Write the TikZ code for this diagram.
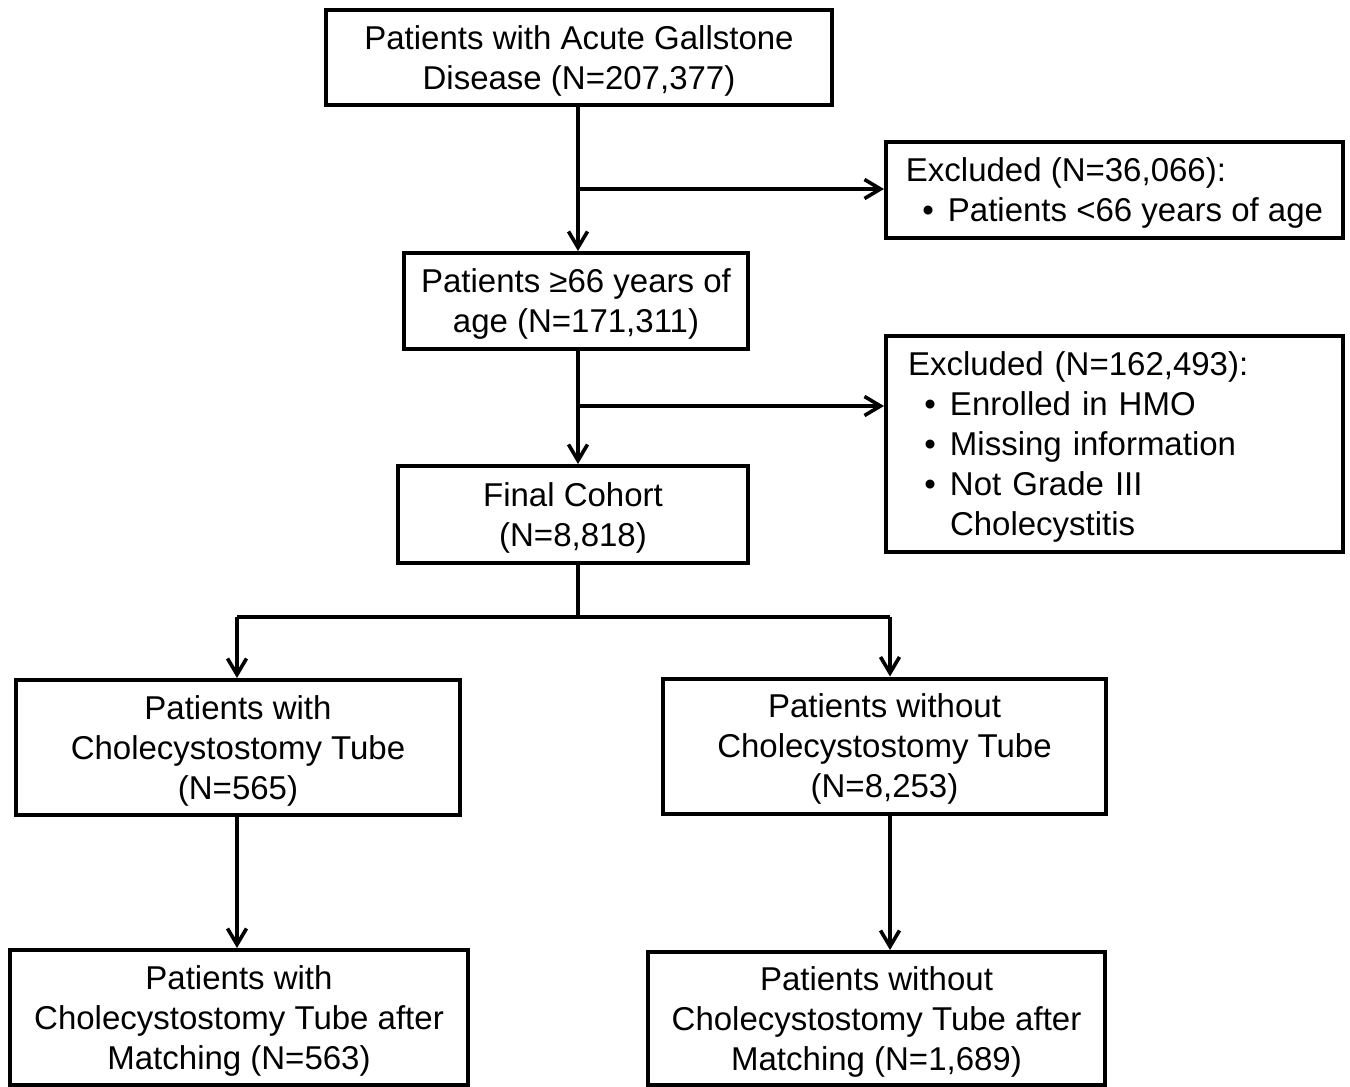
\documentclass[tikz,border=0pt]{standalone}
\usepackage{fontspec}
\setmainfont{Liberation Sans}
\usetikzlibrary{arrows.meta}
\newcommand\bitem[1]{\makebox[21pt][r]{•\hspace{7pt}}#1}
\newcommand\bhang{\hspace*{21pt}}
\newcommand\up{\rule{0pt}{15pt}}
\begin{document}
\begin{tikzpicture}[x=0.5pt,y=-0.5pt,
  box/.style={draw,line width=2pt,inner sep=0pt,align=center,
    font=\fontsize{16.5pt}{20pt}\selectfont},
  line/.style={line width=1.8pt},
  arr/.style={line width=1.8pt,-{Straight Barb[length=8pt,width=9.5pt,line width=1.8pt]}}]
\useasboundingbox (0,0) rectangle (1350,1087);
\node[box,minimum width=253pt,minimum height=47.5pt] (top) at (579,57.5)
  {\up Patients with Acute Gallstone\\Disease (N=207,377)};
\node[box,minimum width=228.5pt,minimum height=48pt,align=left] (ex1) at (1114.5,190)
  {\up Excluded (N=36,066):\\\bitem{Patients <66 years of age}};
\node[box,minimum width=172pt,minimum height=48pt] (age) at (576,301)
  {\up Patients ≥66 years of\\age (N=171,311)};
\node[box,minimum height=108pt,text width=206.5pt,align=left,inner xsep=11pt] (ex2) at (1114.5,444)
  {\up Excluded (N=162,493):\\
   \bitem{Enrolled in HMO}\\
   \bitem{Missing information}\\
   \bitem{Not Grade III}\\
   \bhang Cholecystitis};
\node[box,minimum width=175pt,minimum height=48.5pt] (final) at (573,514.5)
  {\up Final Cohort\\(N=8,818)};
\node[box,minimum width=222pt,minimum height=67.5pt] (L) at (238,747.5)
  {\up Patients with\\Cholecystostomy Tube\\(N=565)};
\node[box,minimum width=221.5pt,minimum height=67.5pt] (R) at (884.5,746)
  {\up Patients without\\Cholecystostomy Tube\\(N=8,253)};
\node[box,minimum width=229pt,minimum height=67.5pt] (BL) at (239,1017.5)
  {\up Patients with\\Cholecystostomy Tube after\\Matching (N=563)};
\node[box,minimum width=228.5pt,minimum height=66.5pt] (BR) at (876.5,1018.5)
  {\up Patients without\\Cholecystostomy Tube after\\Matching (N=1,689)};
\coordinate (mx) at (578,0);
\coordinate (b1) at (578,189);
\coordinate (b2) at (578,406);
\coordinate (split) at (578,617);
\coordinate (lx) at (237,0);
\coordinate (rx) at (890,0);
% connectors
\draw[arr] (mx |- top.south) -- (mx |- age.north);
\draw[arr] (b1) -- (b1 -| ex1.west);
\draw[arr] (mx |- age.south) -- (mx |- final.north);
\draw[arr] (b2) -- (b2 -| ex2.west);
\draw[line] (mx |- final.south) -- (split);
\draw[line] (lx |- split) -- (rx |- split);
\draw[arr] (lx |- split) -- (lx |- L.north);
\draw[arr] (rx |- split) -- (rx |- R.north);
\draw[arr] (lx |- L.south) -- (lx |- BL.north);
\draw[arr] (rx |- R.south) -- (rx |- BR.north);
\end{tikzpicture}
\end{document}
